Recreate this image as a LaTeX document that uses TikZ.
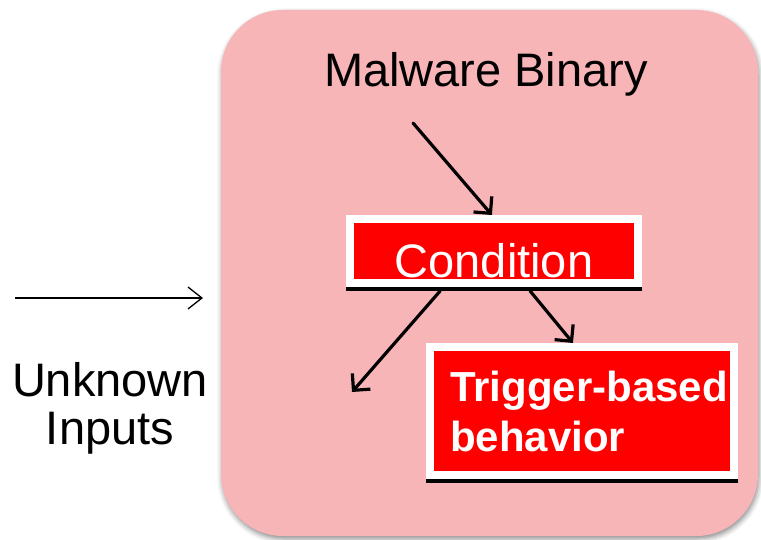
\documentclass[tikz,border=0pt]{standalone}
\usepackage{fontspec}
\setmainfont{Liberation Sans}
\usetikzlibrary{arrows.meta,shadows.blur,calc}
\definecolor{panelpink}{HTML}{F8B5B8}
\begin{document}
\begin{tikzpicture}[x=1pt,y=-1pt,
  panel/.style={fill=panelpink, rounded corners=62pt, inner sep=0pt,
    blur shadow={shadow xshift=1pt, shadow yshift=-3pt, shadow blur radius=5pt, shadow opacity=45}},
  framed/.style={fill=red, draw=white, line width=8pt, text=white, inner sep=0pt},
  flow/.style={line width=3.2pt, line cap=round, -{Straight Barb[length=12pt,width=24pt]}},
  feed/.style={line width=1.3pt, -{Straight Barb[length=14pt,width=22pt]}},
  label/.style={font=\fontsize{47}{48}\selectfont, inner sep=0pt}
]
\useasboundingbox (0,0) rectangle (761,540);

% pink panel holding the program
\node[panel, minimum width=537pt, minimum height=526pt] (panel) at (489.5,273) {};

% condition box with its dark underline
\node[framed, minimum width=288pt, minimum height=64pt,
      font=\fontsize{47}{48}\selectfont, text height=54pt, text depth=0pt] (cond) at (494,251) {Condition};
\fill[black] ([yshift=-4pt]cond.south west) rectangle (cond.south east);

% trigger-based behaviour box
\node[framed, minimum width=304pt, minimum height=128pt, text width=264pt,
      inner xsep=20pt, align=left, font=\bfseries\fontsize{42}{50}\selectfont] (trig) at (582,411)
      {\mbox{Trigger-based}\\behavior};
\fill[black] ([yshift=-4pt]trig.south west) rectangle (trig.south east);

% labels
\node[label, anchor=base] (mb) at (486,87) {Malware Binary};
\node[label, align=center, anchor=base] (ui) at (110,444) {Unknown\\Inputs};

% connectors
\coordinate (mbtail) at (413,123);
\coordinate (leftend) at (352,392);
\coordinate (srcA) at (15,298);
\coordinate (srcB) at (203,298);
\draw[flow] (mbtail) -- ($(cond.north west)!0.493!(cond.north east)$);
\draw[flow] ($([yshift=-4pt]cond.south west)!0.318!([yshift=-4pt]cond.south east)$) -- (leftend);
\draw[flow] ($([yshift=-4pt]cond.south west)!0.622!([yshift=-4pt]cond.south east)$)
  -- ($(trig.north west)!0.471!(trig.north east)$);
\draw[feed] (srcA) -- (srcB);
\end{tikzpicture}
\end{document}
